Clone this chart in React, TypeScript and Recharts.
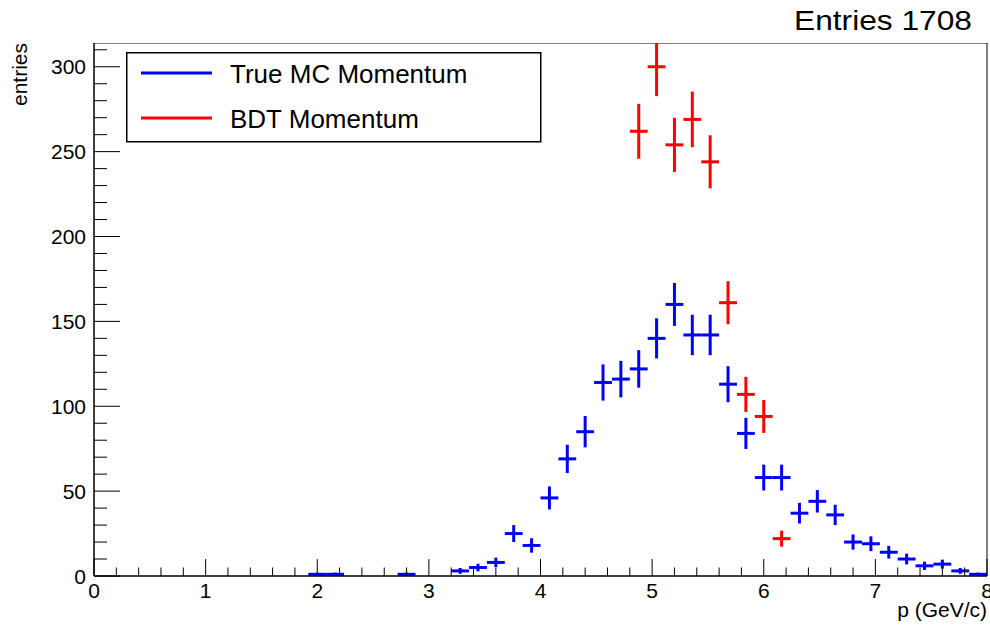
import React from 'react';
import {
  ScatterChart,
  Scatter,
  ErrorBar,
  XAxis,
  YAxis,
  ReferenceArea,
  Legend,
} from 'recharts';

// bin centres (50 bins of 0.16 GeV/c between 0 and 8)
const trueBins = [2.0, 2.16, 2.8, 3.28, 3.44, 3.6, 3.76, 3.92, 4.08, 4.24, 4.4, 4.56, 4.72, 4.88, 5.04, 5.2, 5.36, 5.52, 5.68, 5.84, 6.0, 6.16, 6.32, 6.48, 6.64, 6.8, 6.96, 7.12, 7.28, 7.44, 7.6, 7.76, 7.92];
const trueCounts = [1, 1, 1, 3, 5, 8, 25, 18, 46, 69, 85, 114, 116, 122, 140, 160, 142, 142, 113, 84, 58, 58, 37, 44, 36, 20, 19, 14, 10, 6, 7, 3, 1];

const bdtBins = [4.88, 5.04, 5.2, 5.36, 5.52, 5.68, 5.84, 6.0, 6.16];
const bdtCounts = [262, 300, 254, 269, 244, 161, 107, 94, 22];

const legendOrder = ['True MC Momentum', 'BDT Momentum'];

const xTicks = [0, 0.2, 0.4, 0.6, 0.8, 1, 1.2, 1.4, 1.6, 1.8, 2, 2.2, 2.4, 2.6, 2.8, 3, 3.2, 3.4, 3.6, 3.8, 4, 4.2, 4.4, 4.6, 4.8, 5, 5.2, 5.4, 5.6, 5.8, 6, 6.2, 6.4, 6.6, 6.8, 7, 7.2, 7.4, 7.6, 7.8, 8];
const yTicks = [0, 10, 20, 30, 40, 50, 60, 70, 80, 90, 100, 110, 120, 130, 140, 150, 160, 170, 180, 190, 200, 210, 220, 230, 240, 250, 260, 270, 280, 290, 300, 310];

const halfBin = 0.08;
const FONT = '"Liberation Sans", Arial, sans-serif';

const toPoints = (bins: number[], counts: number[]) =>
  bins.map((x, i) => ({ x, y: counts[i], ex: halfBin, ey: Math.sqrt(counts[i]) }));

const trueData = toPoints(trueBins, trueCounts);
const bdtData = toPoints(bdtBins, bdtCounts);

const EmptyShape = () => <g />;

const XTick = (props: any) => {
  const { x, y, payload } = props;
  const v = payload.value;
  const major = Number.isInteger(v);
  return (
    <g>
      <line x1={x} y1={y} x2={x} y2={y - (major ? 17 : 8.5)} stroke="#000" strokeWidth={1} />
      {major && (
        <text x={x} y={y + 22} textAnchor="middle" fontSize={21} fontFamily={FONT} fill="#000">
          {v}
        </text>
      )}
    </g>
  );
};

const YTick = (props: any) => {
  const { x, y, payload } = props;
  const v = payload.value;
  const major = v % 50 === 0;
  return (
    <g>
      <line x1={x} y1={y} x2={x + (major ? 26 : 13)} y2={y} stroke="#000" strokeWidth={1} />
      {major && (
        <text x={x - 8} y={y + 7.5} textAnchor="end" fontSize={21} fontFamily={FONT} fill="#000">
          {v}
        </text>
      )}
    </g>
  );
};

const LegendBox = (props: any) => {
  const items = [...(props.payload || [])].sort(
    (a: any, b: any) => legendOrder.indexOf(a.value) - legendOrder.indexOf(b.value)
  );
  return (
    <svg width={416} height={91}>
      <rect x={0.75} y={0.75} width={414} height={89} fill="#fff" stroke="#000" strokeWidth={1.5} />
      {items.map((item: any, i: number) => (
        <g key={item.value}>
          <line x1={15} x2={86} y1={21 + i * 45} y2={21 + i * 45} stroke={item.color} strokeWidth={3} />
          <text x={104} y={31 + i * 45} fontSize={26} fontFamily={FONT} fill="#000">
            {item.value}
          </text>
        </g>
      ))}
    </svg>
  );
};

const App = () => {
  return (
    <div style={{ position: 'absolute', left: 0, top: 0, width: 990, height: 626, background: '#fff' }}>
      <ScatterChart width={990} height={626} margin={{ top: 43, right: 3, bottom: 0, left: 0 }}>
        <XAxis
          dataKey="x"
          type="number"
          domain={[0, 8]}
          ticks={xTicks}
          interval={0}
          height={50}
          tickLine={false}
          tickSize={0}
          tickMargin={0}
          tick={<XTick />}
          stroke="#000"
          label={{
            content: ({ viewBox }: any) => (
              <text
                x={viewBox.x + viewBox.width}
                y={viewBox.y + 41}
                textAnchor="end"
                fontSize={21}
                fontFamily={FONT}
                fill="#000"
              >
                p (GeV/c)
              </text>
            ),
          }}
        />
        <YAxis
          dataKey="y"
          type="number"
          domain={[0, 314]}
          allowDataOverflow
          ticks={yTicks}
          interval={0}
          width={94}
          tickLine={false}
          tickSize={0}
          tickMargin={0}
          tick={<YTick />}
          stroke="#000"
          label={{
            content: ({ viewBox }: any) => (
              <text
                x={27}
                y={viewBox.y}
                transform={`rotate(-90, 27, ${viewBox.y})`}
                textAnchor="end"
                fontSize={21}
                fontFamily={FONT}
                fill="#000"
              >
                entries
              </text>
            ),
          }}
        />
        <Scatter name="True MC Momentum" data={trueData} fill="#0000ff" shape={EmptyShape} isAnimationActive={false}>
          <ErrorBar dataKey="ex" direction="x" width={0} stroke="#0000ff" strokeWidth={3} isAnimationActive={false} />
          <ErrorBar dataKey="ey" direction="y" width={0} stroke="#0000ff" strokeWidth={3} isAnimationActive={false} />
        </Scatter>
        <Scatter name="BDT Momentum" data={bdtData} fill="#ff0000" shape={EmptyShape} isAnimationActive={false}>
          <ErrorBar dataKey="ex" direction="x" width={0} stroke="#ff0000" strokeWidth={3} isAnimationActive={false} />
          <ErrorBar dataKey="ey" direction="y" width={0} stroke="#ff0000" strokeWidth={3} isAnimationActive={false} />
        </Scatter>
        <ReferenceArea x1={0} x2={8} y1={0} y2={314} fill="none" stroke="#000" strokeWidth={1} />
        <Legend
          layout="vertical"
          align="center"
          verticalAlign="middle"
          content={<LegendBox />}
          wrapperStyle={{ left: 126, top: 52, width: 416, height: 91, right: 'auto', bottom: 'auto' }}
        />
      </ScatterChart>
      {/* hide the part of error bars that runs above the frame, like ROOT clips it */}
      <div style={{ position: 'absolute', left: 94, top: 0, width: 896, height: 42.5, background: '#fff' }} />
      <svg style={{ position: 'absolute', left: 780, top: 0 }} width={200} height={40}>
        <text
          x={192}
          y={29.5}
          textAnchor="end"
          fontSize={28}
          fontFamily={FONT}
          fill="#000"
          textLength={178}
          lengthAdjust="spacingAndGlyphs"
        >
          Entries 1708
        </text>
      </svg>
    </div>
  );
};

export default App;
